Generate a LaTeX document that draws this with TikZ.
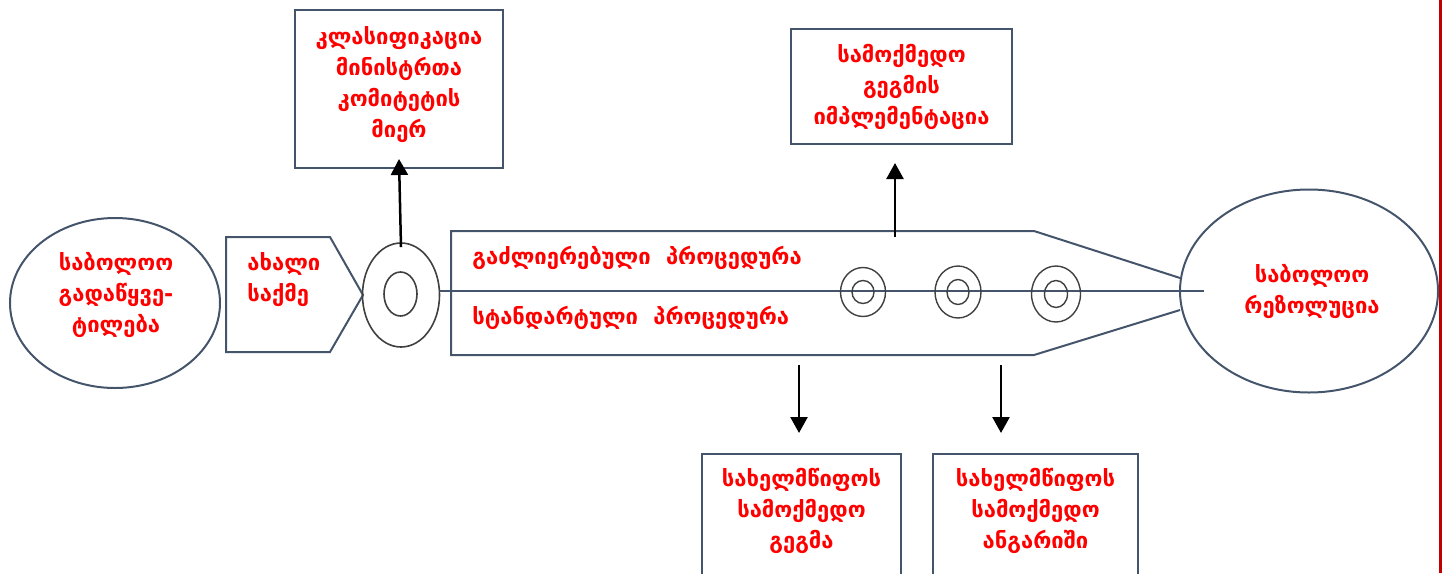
\documentclass[tikz,border=0pt]{standalone}
\usepackage{fontspec}
\newfontfamily\geo{DejaVu Sans}
\usetikzlibrary{arrows.meta,shapes.geometric}
\definecolor{slate}{HTML}{44546A}
\definecolor{ringgray}{HTML}{404040}
\definecolor{edgered}{HTML}{C00000}
\begin{document}
\begin{tikzpicture}[x=0.5pt,y=-0.5pt,
  box/.style={draw=slate, line width=1pt, inner sep=0pt},
  oval/.style={draw=slate, line width=1pt, ellipse, inner sep=0pt},
  txt/.style={text=red, font=\geo\bfseries\fontsize{11}{15.5}\selectfont, align=center, inner sep=0pt},
  ring/.style={draw=ringgray, line width=0.7pt},
  arr/.style={line width=1.25pt, -{Triangle[width=8.5pt,length=8pt]}}]
\useasboundingbox (0,0) rectangle (1449,573);
\clip (0,0) rectangle (1449,573);

% final decision and new case
\node[oval, minimum width=105pt, minimum height=85pt] (decision) at (115,303) {};
\node[txt] (dectxt) at (116,295) {საბოლოო\\გადაწყვე-\\ტილება};
\draw[box] (226,237) -- (330,237) -- (363,295) -- (330,352) -- (226,352) -- cycle;
\node[txt, align=left, anchor=west] (newcase) at (247,280) {ახალი\\საქმე};

% classification ring
\node[ellipse, ring, line width=0.8pt, minimum width=38.5pt, minimum height=52pt, inner sep=0pt] (ring0) at (401,295) {};
\draw[ring, line width=0.8pt] (400.5,294) ellipse [x radius=16.5, y radius=22];

% procedure band
\node[oval, minimum width=129pt, minimum height=101.5pt] (resolution) at (1309,291) {};
\node[txt] (restxt) at (1312,291.5) {საბოლოო\\რეზოლუცია};
\draw[box] (1180,278) -- (1034,231) -- (451,231) -- (451,355) -- (1034,355) -- (1180,310);
\draw[draw=slate, line width=1pt] (ring0.east |- resolution) -- ([xshift=12.5pt]resolution.west);
\node[txt, anchor=west] (enhanced) at (472,258) {გაძლიერებული\ \ პროცედურა};
\node[txt, anchor=west] (standard) at (472,318) {სტანდარტული\ \ პროცედურა};
\foreach \x/\y/\rx/\ry/\ix/\iy in {863/292/22.5/24.5/11/11.5, 958/292/23/26/11/12.5, 1056/294/24.5/28/11.5/13.5}{
  \draw[ring] (\x,\y) ellipse [x radius=\rx, y radius=\ry];
  \draw[ring] (\x,\y) ellipse [x radius=\ix, y radius=\iy];
}
\coordinate (bandtop) at (895,237);
\coordinate (bandbotA) at (799,365);
\coordinate (bandbotB) at (1001,365);

% boxes
\node[box, minimum width=104pt, minimum height=79pt] (cls) at (399,89) {};
\node[txt] (clstxt) at (399,85) {კლასიფიკაცია\\მინისტრთა\\კომიტეტის\\მიერ};
\node[box, minimum width=110.5pt, minimum height=57.5pt] (impl) at (901.5,86.5) {};
\node[txt] (impltxt) at (901.5,87) {სამოქმედო\\გეგმის\\იმპლემენტაცია};
\node[box, anchor=north, minimum width=99.5pt, minimum height=90pt] (plan) at (801.5,453) {};
\node[txt] (plantxt) at (801.5,511) {სახელმწიფოს\\სამოქმედო\\გეგმა};
\node[box, anchor=north, minimum width=102.5pt, minimum height=90pt] (report) at (1035.5,453) {};
\node[txt] (reporttxt) at (1035.5,511) {სახელმწიფოს\\სამოქმედო\\ანგარიში};

% arrows
\draw[arr] ([yshift=-2.5pt]ring0.north) -- ([yshift=5pt]cls.south);
\draw[arr] (bandtop) -- ([yshift=-9pt]impl.south -| bandtop);
\draw[arr] (bandbotA) -- ([yshift=10pt]plan.north -| bandbotA);
\draw[arr] (bandbotB) -- ([yshift=10pt]report.north -| bandbotB);

\draw[edgered, line width=1.5pt] (1440,0) -- (1440,573);
\end{tikzpicture}
\end{document}
